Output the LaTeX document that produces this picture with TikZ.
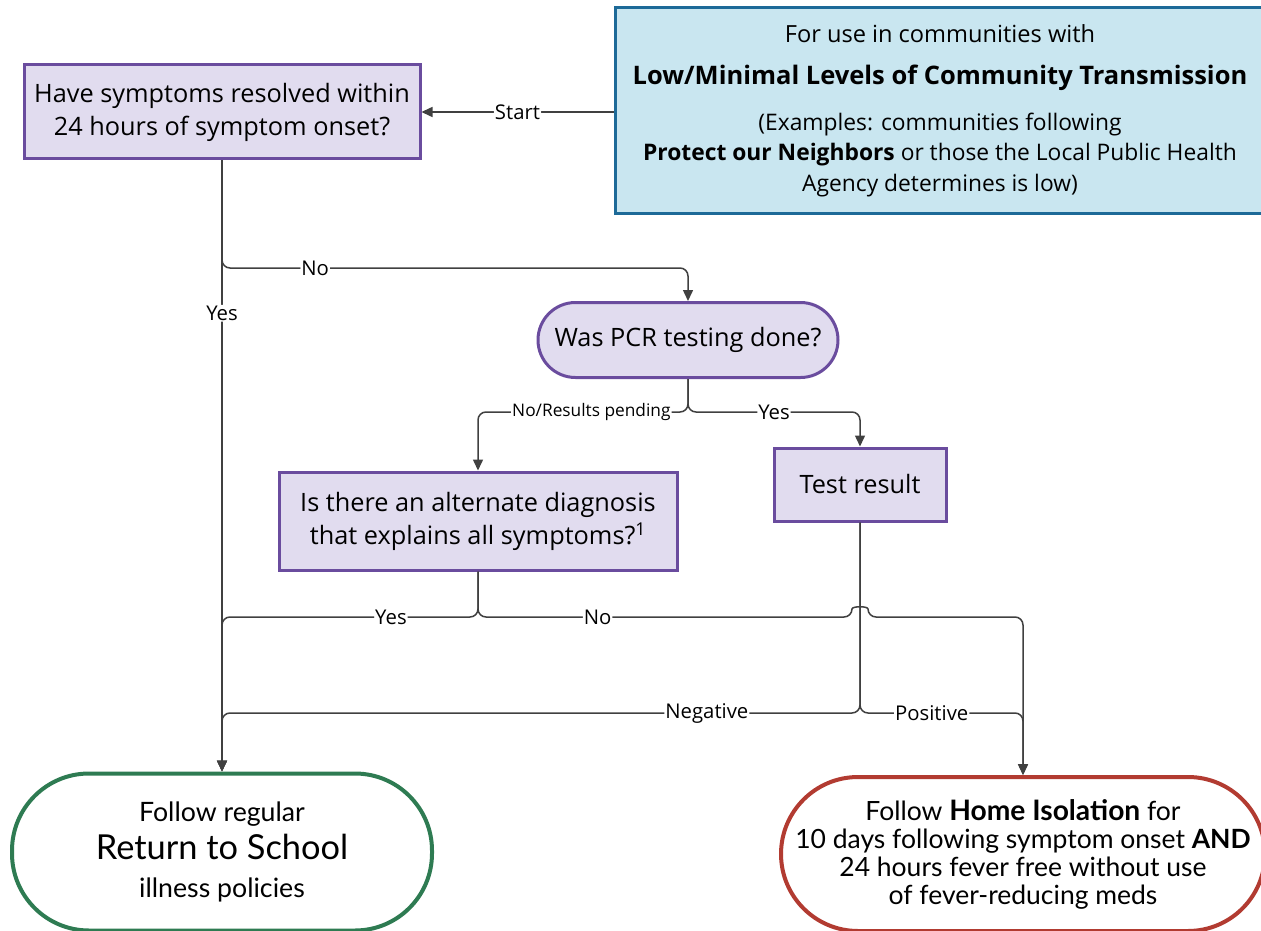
\documentclass[tikz,border=0pt]{standalone}
\usepackage{fontspec}
\setmainfont{Open Sans}
\newfontfamily\latofont{Lato}
\usetikzlibrary{arrows.meta}

\definecolor{qfill}{HTML}{E1DCEF}
\definecolor{qdraw}{HTML}{6A4C9E}
\definecolor{infofill}{HTML}{C9E6F0}
\definecolor{infodraw}{HTML}{1D6A98}
\definecolor{okdraw}{HTML}{2E7B52}
\definecolor{isodraw}{HTML}{B23B31}
\definecolor{linegray}{HTML}{404040}

\begin{document}
\begin{tikzpicture}[%
    x=1pt, y=-1pt,
    question/.style={
        rectangle, draw=qdraw, fill=qfill, line width=3pt,
        align=center, inner sep=0pt, font=\fontsize{25.3}{33}\selectfont
    },
    pill/.style={question, rounded corners=37.5pt},
    info/.style={
        rectangle, draw=infodraw, fill=infofill, line width=3pt,
        align=center, inner sep=0pt, font=\fontsize{22.8}{30.5}\selectfont
    },
    outcome/.style={
        rectangle, rounded corners=77pt, fill=white, line width=4pt,
        align=center, inner sep=0pt
    },
    wire/.style={draw=linegray, line width=1.5pt, rounded corners=8pt},
    flow/.style={wire, -{Triangle[length=11pt,width=10pt]}},
    lbl/.style={fill=white, inner sep=1pt, text=black, font=\fontsize{20.3}{20}\selectfont}
]
    % Fixed page size, same as the original chart.
    \useasboundingbox (0,0) rectangle (1261,931);

    % Heights of the branching lines.
    \coordinate (noY)   at (0,268);
    \coordinate (pcrY)  at (0,412);
    \coordinate (altY)  at (0,617);
    \coordinate (testY) at (0,713);
    \coordinate (hopL)  at (852,617);

    % Header box.
    \node[info, minimum width=650pt, minimum height=205pt] (info) at (940,110.5)
        {{\fontsize{23.6}{30}\selectfont For use in communities with}\\[12pt]
         {\fontsize{25.5}{30}\selectfont\bfseries Low/Minimal Levels of Community Transmission}\\[15pt]
         (Examples: communities following\\
         \textbf{Protect our Neighbors} or those the Local Public Health\\
         Agency determines is low)};

    % Questions.
    \node[question, minimum width=396pt, minimum height=94pt] (q1) at (222,112)
        {Have symptoms resolved within\\24 hours of symptom onset?};
    \node[pill, minimum width=300pt, minimum height=75pt] (pcr) at (688,340)
        {Was PCR testing done?};
    \node[question, minimum width=398pt, minimum height=98pt] (alt) at (478,521)
        {Is there an alternate diagnosis\\that explains all symptoms?\textsuperscript{1}};
    \node[question, minimum width=172pt, minimum height=73pt] (test) at (860,484.5)
        {Test result};

    % Outcomes.
    \node[outcome, draw=okdraw, minimum width=420pt, minimum height=157pt,
          font=\latofont\fontsize{26.7}{38}\selectfont] (rts) at (222,852)
        {Follow regular\\{\fontsize{34.4}{38}\selectfont Return to School}\\illness policies};
    \node[outcome, draw=isodraw, minimum width=484pt, minimum height=154pt,
          font=\latofont\fontsize{26.5}{28}\selectfont] (home) at (1023,854)
        {Follow {\fontsize{28.2}{28}\selectfont\bfseries Home Isolation} for\\
         10 days following symptom onset \textbf{AND}\\
         24 hours fever free without use\\
         of fever-reducing meds};

    % Connectors.
    \draw[flow] (info.west |- q1.east) -- node[lbl] {Start} (q1.east);
    \draw[flow] (q1.south) -- node[lbl, pos=0.25] {Yes} (rts.north);
    \draw[flow] (q1.south) |- node[lbl, pos=0.6] {No} (pcr.north |- noY) -- (pcr.north);

    \draw[flow] (pcr.south) |- node[lbl, pos=0.73, font=\fontsize{17.3}{17}\selectfont] {No/Results pending}
        (alt.north |- pcrY) -- (alt.north);
    \draw[flow] (pcr.south) |- node[lbl, pos=0.75] {Yes} (test.north |- pcrY) -- (test.north);

    \draw[flow] (alt.south) |- node[lbl, pos=0.67] {Yes} (rts.north |- altY) -- (rts.north);
    \draw[flow] (alt.south) |- node[lbl, pos=0.66] {No} (hopL)
        .. controls +(0,-11) and +(0,-11) .. (868,617) -| (home.north);

    \draw[flow] (test.south) |- node[lbl, pos=0.62] {Negative} (rts.north |- testY) -- (rts.north);
    \draw[flow] (test.south) |- node[lbl, pos=0.72] {Positive} (home.north |- testY) -- (home.north);
\end{tikzpicture}
\end{document}
